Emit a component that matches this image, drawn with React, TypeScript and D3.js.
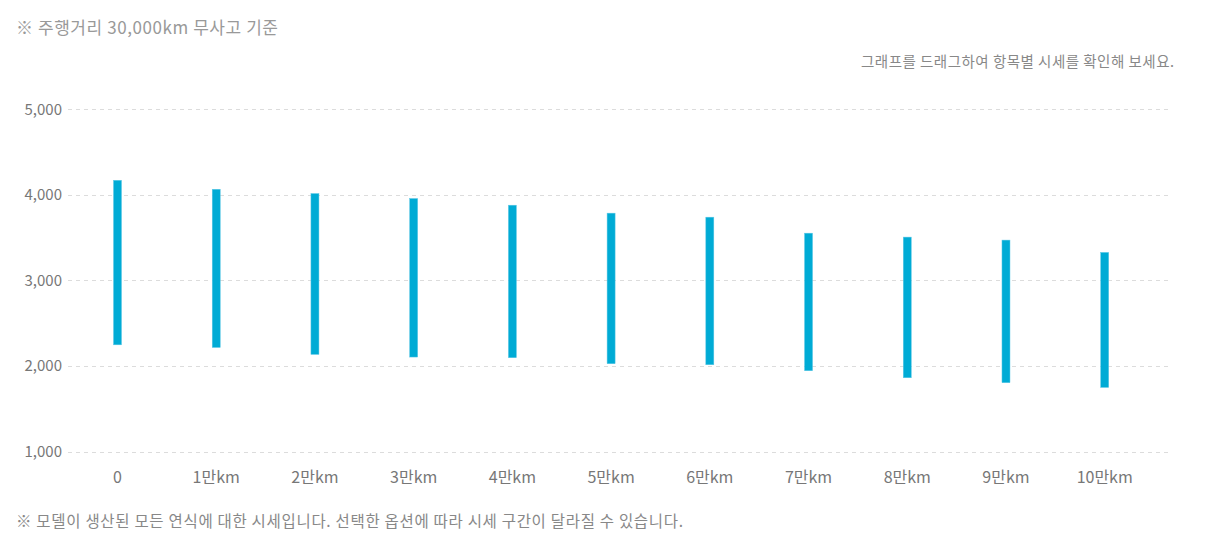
import React from "react";
import * as d3 from "d3";

const categories = ["0", "1만km", "2만km", "3만km", "4만km", "5만km", "6만km", "7만km", "8만km", "9만km", "10만km"];
const highValues = [4170, 4065, 4015, 3957, 3879, 3786, 3739, 3552, 3506, 3471, 3327];
const lowValues = [2247, 2216, 2135, 2104, 2096, 2026, 2014, 1944, 1862, 1804, 1749];
const yTicks = [1000, 2000, 3000, 4000, 5000];

const W = 1209;
const H = 538;
const FONT = "'Noto Sans CJK KR', 'Noto Sans', sans-serif";

export default function App() {
  const x = d3.scalePoint<string>().domain(categories).range([117.5, 1104.7]);
  const y = d3.scaleLinear().domain([1000, 5000]).range([451.5, 109.3]);
  const fmt = d3.format(",");
  const barW = 8;

  return (
    <svg
      width={W}
      height={H}
      style={{ position: "absolute", left: 0, top: 0, background: "#fff" }}
      fontFamily={FONT}
    >
      <text x={16} y={34} fontSize={17} fill="#999" textLength={262} lengthAdjust="spacing">
        ※ 주행거리 30,000km 무사고 기준
      </text>
      <text x={1174} y={67} fontSize={14.5} fill="#888" textAnchor="end" textLength={313} lengthAdjust="spacing">
        그래프를 드래그하여 항목별 시세를 확인해 보세요.
      </text>

      {yTicks.map((t) => (
        <g key={t}>
          <line
            x1={68}
            x2={1172}
            y1={Math.round(y(t)) + 0.5}
            y2={Math.round(y(t)) + 0.5}
            stroke="#dcdcdc"
            strokeDasharray="4,4"
          />
          <text x={62} y={y(t)} dy="0.35em" fontSize={15} fill="#777" textAnchor="end">
            {fmt(t)}
          </text>
        </g>
      ))}

      {categories.map((c, i) => (
        <g key={c}>
          <rect
            x={(x(c) as number) - barW / 2}
            y={y(highValues[i])}
            width={barW}
            height={y(lowValues[i]) - y(highValues[i])}
            fill="#00abd5"
            stroke="#5cc8e6"
            strokeWidth={0.5}
          />
          <text x={x(c) as number} y={477} dy="0.35em" fontSize={16} fill="#777" textAnchor="middle">
            {c}
          </text>
        </g>
      ))}

      <text x={16} y={527} fontSize={15.5} fill="#888" textLength={667} lengthAdjust="spacing">
        ※ 모델이 생산된 모든 연식에 대한 시세입니다. 선택한 옵션에 따라 시세 구간이 달라질 수 있습니다.
      </text>
    </svg>
  );
}
